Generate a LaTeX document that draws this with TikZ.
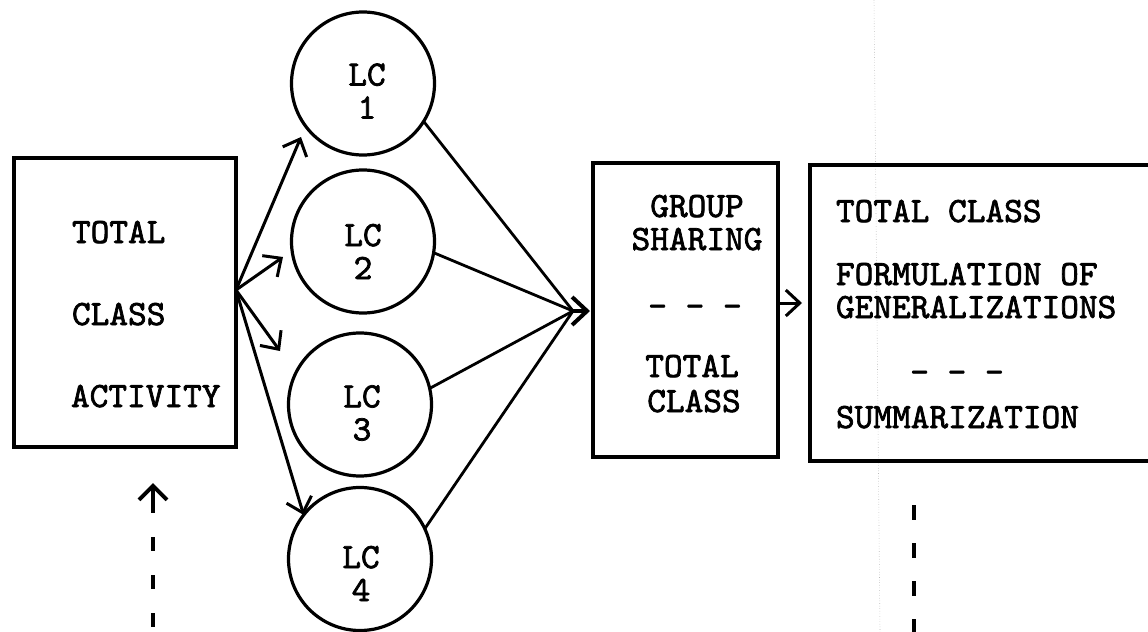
\documentclass[tikz,border=0pt]{standalone}
\usepackage{fontspec}
\setmonofont[FakeBold=2]{lmmono10-regular.otf}
\usetikzlibrary{arrows.meta}

\begin{document}
\begin{tikzpicture}[x=0.5pt,y=-0.5pt,
  every node/.style={font=\ttfamily\fontsize{17.8}{16.5}\selectfont, inner sep=0pt, outer sep=0pt},
  box/.style={draw, rectangle, line width=2pt},
  lcbox/.style={draw, circle, line width=1.6pt, minimum size=71.5pt},
  link/.style={line width=1.4pt},
  arr/.style={line width=1.5pt, -{Straight Barb[length=7pt,width=13pt]}},
  bigarr/.style={line width=2pt, -{Straight Barb[length=7.5pt,width=14pt]}},
  dashline/.style={line width=2pt, dash pattern=on 7pt off 12pt},
  dashline2/.style={line width=2pt, dash pattern=on 7.5pt off 11.5pt},
  txtl/.style={anchor=base west},
  txtc/.style={anchor=base},
]
\useasboundingbox (0,0) rectangle (1148,632);

% faint fold line across the right part
\draw[gray!55, line width=0.3pt, densely dotted] (874,0) -- (880,632);

% boxes
\node[box, minimum width=111pt, minimum height=144.5pt] (tca) at (125,302.5) {};
\node[box, minimum width=92.5pt, minimum height=147pt] (gs) at (685.5,310) {};
% the summary box runs past the right margin, so only three sides are seen
\node[rectangle, minimum width=180pt, minimum height=148pt] (rb) at (990,313) {};
\draw[line width=2pt] (rb.north east) -- (rb.north west) -- (rb.south west) -- (rb.south east);

% total class activity
\node[txtl] (t1) at (72,243) {TOTAL};
\node[txtl] (t2) at (72,325) {CLASS};
\node[txtl] (t3) at (71,407) {ACTIVITY};

% group sharing
\node[txtc] (g1) at (697,217) {GROUP};
\node[txtc] (g2) at (697,250) {SHARING};
\node[txtc] (g3) at (695,317) {- - -};
\node[txtc] (g4) at (692,377) {TOTAL};
\node[txtc] (g5) at (694,412) {CLASS};

% total class summary
\node[txtl] (r1) at (836,222) {TOTAL CLASS};
\node[txtl] (r2) at (836,285) {FORMULATION OF};
\node[txtl] (r3) at (836,318) {GENERALIZATIONS};
\node[txtc] (r4) at (957,383) {- - -};
\node[txtl] (r5) at (836,428) {SUMMARIZATION};

% learning centers
\node[lcbox] (lc1) at (363,83.5) {};
\node[lcbox] (lc2) at (363,241.5) {};
\node[lcbox] (lc3) at (360,404.5) {};
\node[lcbox] (lc4) at (360,559) {};
\node[align=center] (lc1t) at (367,91) {LC\\1};
\node[align=center] (lc2t) at (363,251.5) {LC\\2};
\node[align=center] (lc3t) at (362,413) {LC\\3};
\node[align=center] (lc4t) at (361,573.5) {LC\\4};

% fan out of the class activity
\coordinate (fan) at (236,290);
\coordinate (f1) at (301,137);
\coordinate (f2) at (283,257);
\coordinate (f3) at (280,351);
\draw[arr] (fan) -- (f1);
\draw[arr] (fan) -- (f2);
\draw[arr] (fan) -- (f3);
\draw[arr] (fan) -- (lc4.142);

% centers converge into group sharing
\coordinate (hub) at (573,311);
\draw[link] (lc1.-32) -- (hub);
\draw[link] (lc2.-9) -- (hub);
\draw[link] (lc3.13) -- (hub);
\draw[link] (lc4.25) -- (hub);
\draw[bigarr, shorten >=1.5pt] (hub) -- (hub -| gs.west);

% group sharing to summary
\coordinate (m) at ([yshift=3.5pt]gs.east);
\draw[arr, shorten >=4pt] (m) -- (m -| rb.west);

% dashed feedback lines at the bottom
\coordinate (up0) at (153,640);
\coordinate (up1) at (153,499);
\coordinate (uptip) at (153,483);
\draw[dashline] (up1) -- (up0);
\draw[line width=2pt, -{Straight Barb[length=7pt,width=14pt]}] (up1) -- (uptip);
\coordinate (dn0) at (914,505);
\coordinate (dn1) at (914,640);
\draw[dashline2] (dn0) -- (dn1);
\end{tikzpicture}
\end{document}
